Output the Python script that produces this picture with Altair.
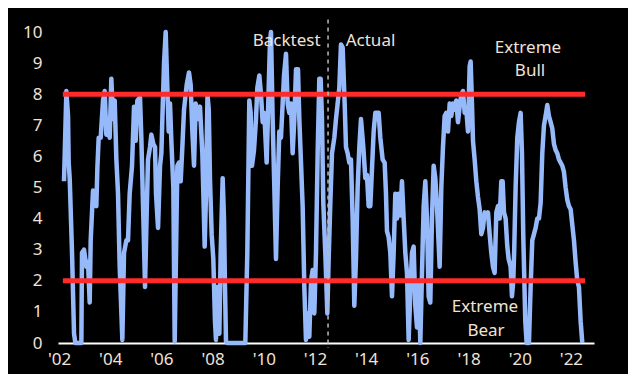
import altair as alt
import pandas as pd

# ---- data ----
years = [
    2002.195, 2002.287, 2002.352, 2002.378, 2002.417, 2002.508, 2002.586, 2002.638, 2002.872, 2002.898,
    2002.977, 2003.068, 2003.133, 2003.198, 2003.237, 2003.328, 2003.458, 2003.497, 2003.549, 2003.628,
    2003.719, 2003.784, 2003.849, 2003.914, 2003.979, 2004.044, 2004.109, 2004.175, 2004.240, 2004.305,
    2004.370, 2004.474, 2004.539, 2004.630, 2004.695, 2004.760, 2004.852, 2004.930, 2004.995, 2005.060,
    2005.164, 2005.216, 2005.295, 2005.360, 2005.425, 2005.477, 2005.555, 2005.607, 2005.685, 2005.750,
    2005.789, 2005.868, 2005.946, 2005.998, 2006.037, 2006.102, 2006.167, 2006.232, 2006.284, 2006.336,
    2006.388, 2006.466, 2006.519, 2006.571, 2006.623, 2006.688, 2006.753, 2006.818, 2006.883, 2006.987,
    2007.078, 2007.143, 2007.209, 2007.274, 2007.339, 2007.430, 2007.508, 2007.599, 2007.690, 2007.742,
    2007.800, 2007.850, 2007.900, 2007.963, 2008.028, 2008.093, 2008.132, 2008.184, 2008.263, 2008.315,
    2008.393, 2008.445, 2008.484, 2008.523, 2008.575, 2009.278, 2009.356, 2009.434, 2009.486, 2009.539,
    2009.617, 2009.695, 2009.747, 2009.825, 2009.890, 2009.955, 2010.020, 2010.112, 2010.177, 2010.242,
    2010.281, 2010.346, 2010.411, 2010.476, 2010.541, 2010.606, 2010.671, 2010.737, 2010.789, 2010.867,
    2010.932, 2010.997, 2011.062, 2011.127, 2011.193, 2011.258, 2011.336, 2011.388, 2011.453, 2011.518,
    2011.583, 2011.648, 2011.713, 2011.778, 2011.844, 2011.909, 2011.974, 2012.039, 2012.104, 2012.169,
    2012.221, 2012.273, 2012.325, 2012.403, 2012.482, 2012.534, 2012.599, 2012.664, 2012.755, 2012.820,
    2012.885, 2012.950, 2013.015, 2013.081, 2013.159, 2013.211, 2013.276, 2013.341, 2013.406, 2013.471,
    2013.536, 2013.601, 2013.666, 2013.732, 2013.797, 2013.888, 2013.966, 2014.031, 2014.096, 2014.161,
    2014.227, 2014.292, 2014.357, 2014.487, 2014.552, 2014.643, 2014.721, 2014.773, 2014.812, 2014.878,
    2014.943, 2015.008, 2015.073, 2015.138, 2015.203, 2015.268, 2015.333, 2015.398, 2015.464, 2015.529,
    2015.594, 2015.659, 2015.724, 2015.789, 2015.854, 2015.919, 2015.984, 2016.049, 2016.115, 2016.180,
    2016.245, 2016.310, 2016.375, 2016.440, 2016.505, 2016.570, 2016.635, 2016.700, 2016.766, 2016.870,
    2016.935, 2017.000, 2017.065, 2017.130, 2017.196, 2017.261, 2017.326, 2017.391, 2017.456, 2017.521,
    2017.586, 2017.651, 2017.716, 2017.782, 2017.847, 2017.912, 2017.977, 2018.042, 2018.081, 2018.133,
    2018.172, 2018.237, 2018.302, 2018.367, 2018.433, 2018.498, 2018.563, 2018.628, 2018.693, 2018.758,
    2018.823, 2018.888, 2018.953, 2019.018, 2019.084, 2019.149, 2019.214, 2019.279, 2019.331, 2019.383,
    2019.448, 2019.513, 2019.565, 2019.643, 2019.695, 2019.747, 2019.780, 2019.838, 2019.903, 2019.968,
    2020.034, 2020.086, 2020.138, 2020.216, 2020.268, 2020.359, 2020.424, 2020.489, 2020.554, 2020.619,
    2020.684, 2020.750, 2020.815, 2020.880, 2020.945, 2021.010, 2021.075, 2021.140, 2021.205, 2021.270,
    2021.336, 2021.401, 2021.466, 2021.531, 2021.596, 2021.661, 2021.726, 2021.791, 2021.857, 2021.922,
    2021.987, 2022.052, 2022.117, 2022.182, 2022.247, 2022.312, 2022.378, 2022.443,
]
values = [
    5.2, 8.1, 7.3, 5.8, 5.3, 2.9, 0.3, 0.0, 0.0, 2.9,
    3.0, 2.45, 2.6, 1.3, 3.3, 4.9, 4.4, 5.6, 6.6, 6.6,
    7.8, 8.1, 6.7, 7.2, 6.6, 8.5, 7.2, 7.8, 5.9, 4.8,
    2.45, 0.1, 2.9, 3.3, 3.3, 4.8, 5.7, 7.6, 6.5, 7.8,
    7.9, 6.6, 4.0, 1.8, 4.2, 5.9, 6.3, 6.7, 6.4, 6.3,
    4.8, 3.7, 5.7, 6.1, 7.2, 9.0, 10.0, 8.2, 6.8, 7.7,
    6.5, 5.0, 0.05, 2.9, 5.7, 5.8, 5.2, 6.3, 7.5, 8.3,
    8.7, 8.3, 6.8, 5.7, 7.7, 7.2, 7.6, 6.1, 3.1, 4.8,
    8.0, 7.5, 5.2, 3.5, 2.7, 0.7, 0.1, 1.8, 0.3, 2.9,
    5.3, 4.0, 1.8, 0.05, 0.0, 0.0, 2.9, 7.8, 7.4, 5.7,
    6.2, 7.2, 8.2, 8.6, 8.0, 7.1, 7.4, 5.8, 7.8, 9.7,
    10.0, 7.2, 5.0, 2.7, 5.0, 6.8, 6.6, 7.7, 8.6, 9.3,
    7.7, 7.4, 7.7, 6.1, 7.2, 8.8, 8.8, 7.2, 5.8, 4.4,
    1.8, 0.1, 0.95, 0.2, 2.0, 2.35, 0.95, 2.9, 6.1, 8.5,
    8.5, 7.2, 4.5, 2.9, 0.95, 2.7, 4.5, 6.1, 6.6, 7.2,
    7.7, 8.2, 9.6, 9.5, 7.7, 6.3, 6.1, 5.8, 5.9, 4.0,
    1.2, 2.7, 5.0, 6.3, 7.2, 6.3, 5.3, 5.4, 4.4, 4.4,
    5.6, 6.8, 7.4, 7.4, 6.6, 5.9, 5.8, 4.8, 3.6, 3.4,
    2.9, 1.5, 2.9, 4.8, 4.0, 4.8, 4.1, 5.2, 4.0, 2.9,
    2.25, 0.1, 1.6, 2.9, 3.1, 1.2, 0.5, 2.0, 0.0, 2.25,
    4.4, 5.2, 4.0, 1.5, 1.3, 4.0, 5.7, 5.3, 4.4, 2.45,
    5.0, 6.3, 7.3, 7.4, 6.8, 7.7, 7.3, 7.7, 7.5, 7.8,
    7.1, 7.6, 8.0, 8.1, 7.4, 7.5, 6.8, 8.9, 9.05, 7.7,
    6.5, 5.9, 5.2, 4.7, 4.3, 3.5, 3.7, 4.2, 4.1, 4.2,
    3.5, 2.9, 2.45, 2.25, 4.2, 4.4, 4.0, 5.2, 5.2, 4.2,
    4.0, 3.1, 2.7, 2.45, 1.5, 2.0, 2.9, 5.0, 6.6, 7.1,
    7.4, 6.1, 3.4, 0.7, 0.0, 0.0, 1.8, 3.3, 3.5, 3.7,
    4.0, 4.0, 4.5, 6.1, 7.0, 7.3, 7.65, 7.3, 7.1, 6.9,
    6.4, 6.2, 6.1, 5.9, 5.8, 5.7, 5.5, 5.0, 4.6, 4.4,
    4.3, 3.8, 3.3, 2.6, 2.0, 1.8, 0.7, 0.0,
]

levels = [8, 2]
level_start = [2002.15, 2002.15]
level_end = [2022.55, 2022.55]

split_year = [2012.51]
split_top = [10.4]
split_bottom = [-0.16]

tick_years = [2002, 2004, 2006, 2008, 2010, 2012, 2014, 2016, 2018, 2020, 2022]
tick_labels = ["'02", "'04", "'06", "'08", "'10", "'12", "'14", "'16", "'18", "'20", "'22"]
y_ticks = [0, 1, 2, 3, 4, 5, 6, 7, 8, 9, 10]

ann_text = ["Backtest", "Actual", "Extreme", "Bull", "Extreme", "Bear"]
ann_x = [2012.22, 2013.2, 2020.32, 2020.4, 2018.64, 2018.68]
ann_y = [9.71, 9.71, 9.49, 8.75, 1.16, 0.39]
ann_align = ["right", "left", "center", "center", "center", "center"]

# ---- frames ----
series = pd.DataFrame({"year": years, "value": values})
level_df = pd.DataFrame({"level": levels, "x0": level_start, "x1": level_end})
split_df = pd.DataFrame({"x": split_year, "y0": split_top, "y1": split_bottom})
ann_df = pd.DataFrame({"text": ann_text, "x": ann_x, "y": ann_y, "align": ann_align})

label_expr = "".join(
    f'datum.value == {y} ? "{l}" : ' for y, l in zip(tick_years, tick_labels)
) + '""'

FONT = "Noto Sans"
TXT = "#F0E2D6"

xscale = alt.Scale(domain=[2001.96, 2022.9], nice=False, zero=False)
yscale = alt.Scale(domain=[0, 10], nice=False)

x_axis = alt.Axis(
    values=tick_years, labelExpr=label_expr, title=None, grid=False,
    ticks=False, domain=True, domainColor="#FFFFFF", domainWidth=2,
    labelPadding=8, labelFont=FONT, labelFontSize=17, labelColor=TXT,
    labelOverlap=False,
)
y_axis = alt.Axis(
    values=y_ticks, title=None, grid=False, ticks=False, domain=False,
    labelPadding=16, labelFont=FONT, labelFontSize=17, labelColor=TXT,
    labelOverlap=False,
)

line = alt.Chart(series).mark_line(
    color="#96B9FA", strokeWidth=4.5, strokeJoin="round"
).encode(
    x=alt.X("year:Q", scale=xscale, axis=x_axis),
    y=alt.Y("value:Q", scale=yscale, axis=y_axis),
)

rules = alt.Chart(level_df).mark_rule(color="#FF2B2B", strokeWidth=5).encode(
    x=alt.X("x0:Q", scale=xscale, axis=x_axis),
    x2="x1:Q",
    y=alt.Y("level:Q", scale=yscale, axis=y_axis),
)

split = alt.Chart(split_df).mark_rule(
    color="#BBBBBB", strokeWidth=1.5, strokeDash=[4, 4]
).encode(
    x=alt.X("x:Q", scale=xscale, axis=x_axis),
    y=alt.Y("y0:Q", scale=yscale, axis=y_axis),
    y2="y1:Q",
)

text_layers = []
for a in ["left", "center", "right"]:
    text_layers.append(
        alt.Chart(ann_df[ann_df["align"] == a]).mark_text(
            font=FONT, fontSize=17, color=TXT, baseline="middle", align=a
        ).encode(
            x=alt.X("x:Q", scale=xscale, axis=x_axis),
            y=alt.Y("y:Q", scale=yscale, axis=y_axis),
            text="text:N",
        )
    )

chart = alt.layer(line, rules, split, *text_layers).properties(
    width=536,
    height=311,
    padding={"left": 50, "top": 24, "right": 34, "bottom": 31},
    autosize=alt.AutoSizeParams(type="none"),
    background="#000000",
).configure_view(stroke=None)

chart.save("out.html", embed_options={"renderer": "svg", "actions": False})
